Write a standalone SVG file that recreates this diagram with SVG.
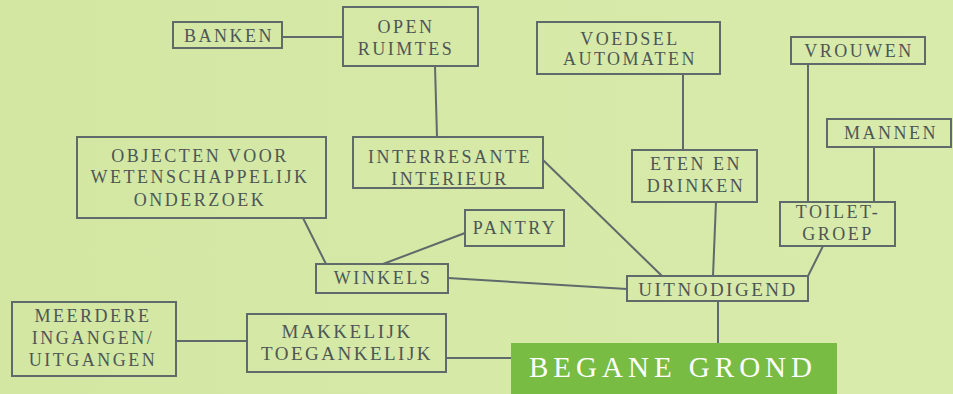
<svg xmlns="http://www.w3.org/2000/svg" width="953" height="394" viewBox="0 0 953 394">
<defs>
<linearGradient id="bg" x1="0" y1="0" x2="1" y2="0">
<stop offset="0" stop-color="#d3e7a3"/>
<stop offset="1" stop-color="#d9ebab"/>
</linearGradient>
</defs>
<style>
.box{fill:none;stroke:#5f6a6a;stroke-width:2}
.con line{stroke:#5f6a6a;stroke-width:2}
text{font-family:"Liberation Serif","Times New Roman",serif;font-size:18px;fill:#4d5656;text-anchor:middle;letter-spacing:2.5px}
.big{font-size:29px;fill:#ffffff;letter-spacing:5px}
</style>
<rect width="953" height="394" fill="url(#bg)"/>
<g class="con" id="connectors">
<line x1="282" y1="37" x2="343" y2="37"/>
<line x1="435" y1="66" x2="437" y2="137"/>
<line x1="543" y1="160" x2="662" y2="276"/>
<line x1="683" y1="74" x2="683" y2="150"/>
<line x1="716" y1="202" x2="713" y2="276"/>
<line x1="808" y1="64" x2="808" y2="202"/>
<line x1="874" y1="147" x2="874" y2="202"/>
<line x1="823" y1="246" x2="808" y2="276"/>
<line x1="303" y1="218" x2="326" y2="264"/>
<line x1="383" y1="264" x2="465" y2="233"/>
<line x1="448" y1="278" x2="627" y2="289"/>
<line x1="718" y1="301" x2="718" y2="343"/>
<line x1="176" y1="341" x2="247" y2="341"/>
<line x1="446" y1="358" x2="511" y2="358"/>
</g>
<g id="banken"><rect class="box" x="173" y="22" width="109" height="26"/><text x="229" y="42">BANKEN</text></g>
<g id="open-ruimtes"><rect class="box" x="343" y="7" width="135" height="59"/><text x="406" y="33">OPEN</text><text x="406" y="55">RUIMTES</text></g>
<g id="objecten"><rect class="box" x="77" y="137" width="249" height="81"/><text x="200" y="162">OBJECTEN VOOR</text><text x="200" y="183">WETENSCHAPPELIJK</text><text x="200" y="206">ONDERZOEK</text></g>
<g id="interresante"><rect class="box" x="353" y="137" width="190" height="51"/><text x="450" y="163">INTERRESANTE</text><text x="450" y="185">INTERIEUR</text></g>
<g id="voedsel"><rect class="box" x="537" y="22" width="183" height="52"/><text x="630" y="45">VOEDSEL</text><text x="630" y="65">AUTOMATEN</text></g>
<g id="vrouwen"><rect class="box" x="791" y="37" width="134" height="27"/><text x="859" y="57">VROUWEN</text></g>
<g id="mannen"><rect class="box" x="827" y="119" width="124" height="28"/><text x="891" y="139">MANNEN</text></g>
<g id="eten"><rect class="box" x="632" y="150" width="125" height="52"/><text x="696" y="170">ETEN EN</text><text x="696" y="192">DRINKEN</text></g>
<g id="toiletgroep"><rect class="box" x="780" y="202" width="115" height="44"/><text x="838" y="218">TOILET-</text><text x="838" y="240">GROEP</text></g>
<g id="pantry"><rect class="box" x="465" y="210" width="99" height="36"/><text x="515" y="234">PANTRY</text></g>
<g id="winkels"><rect class="box" x="316" y="264" width="132" height="29"/><text x="383" y="284">WINKELS</text></g>
<g id="uitnodigend"><rect class="box" x="627" y="276" width="181" height="25"/><text x="718" y="296" style="font-size:19px">UITNODIGEND</text></g>
<g id="meerdere"><rect class="box" x="12" y="302" width="164" height="74"/><text x="93" y="322">MEERDERE</text><text x="93" y="344">INGANGEN/</text><text x="93" y="366">UITGANGEN</text></g>
<g id="makkelijk"><rect class="box" x="247" y="314" width="199" height="58"/><text x="347" y="338" style="font-size:19px">MAKKELIJK</text><text x="347" y="360" style="font-size:19px">TOEGANKELIJK</text></g>
<g id="begane-grond"><rect x="511" y="343" width="326" height="51" fill="#78bc43"/><text class="big" x="673" y="377">BEGANE GROND</text></g>
</svg>
